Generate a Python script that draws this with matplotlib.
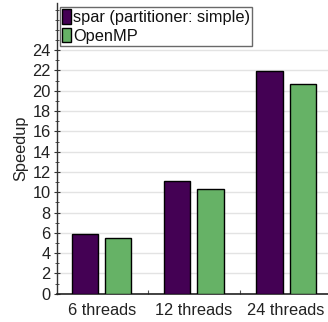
import matplotlib
matplotlib.use("Agg")
import matplotlib.pyplot as plt
import numpy as np
from matplotlib.ticker import MultipleLocator
from matplotlib.patches import Patch

categories = ["6 threads", "12 threads", "24 threads"]
series_names = ["spar (partitioner: simple)", "OpenMP"]
spar_values = [5.88, 11.07, 21.97]
openmp_values = [5.49, 10.35, 20.63]
colors = ["#440154", "#66b266"]

plt.rcParams['font.family'] = ['Liberation Sans', 'DejaVu Sans']
FS = 11.8

fig = plt.figure(figsize=(3.28, 3.22), dpi=100)
ax = fig.add_axes([57/328, (322-293.7)/322, 1 - 57/328 + 0.01, (293.7-3)/322])

x = np.arange(len(categories))
w = 0.283
off = 0.18
ax.bar(x - off, spar_values, w, color=colors[0], edgecolor="black", linewidth=1.0, zorder=3)
ax.bar(x + off, openmp_values, w, color=colors[1], edgecolor="black", linewidth=1.0, zorder=3)

ax.set_xlim(-0.484, 2.49)
ax.set_ylim(0, 28.65)
ax.set_yticks(np.arange(0, 25, 2))
ax.yaxis.set_minor_locator(MultipleLocator(1))
ax.tick_params(axis='y', which='major', direction='inout', length=5, width=0.8, labelsize=FS, pad=2, colors='#333333', labelcolor='#222222')
ax.tick_params(axis='y', which='minor', direction='inout', length=3, width=0.6, colors='#333333')
for yv in range(0, 25, 2):
    ax.axhline(yv, color="#e3e3e3", linewidth=1.0, zorder=1)

ax.set_xticks(x)
ax.set_xticklabels(categories)
ax.tick_params(axis='x', which='major', length=0, labelsize=FS, pad=7, labelcolor='#222222')
ax.set_xticks([0.5, 1.5], minor=True)
ax.tick_params(axis='x', which='minor', direction='in', length=3, width=0.8, colors='#555555')

for s in ['top', 'right']:
    ax.spines[s].set_visible(False)
ax.spines['left'].set_color('#333333')
ax.spines['bottom'].set_color('#222222')
ax.spines['left'].set_linewidth(1.0)
ax.spines['bottom'].set_linewidth(1.2)

ax.set_ylabel("Speedup", fontsize=FS, labelpad=3, color='#222222')

handles = [Patch(facecolor=colors[0], edgecolor="black", linewidth=1.0),
           Patch(facecolor=colors[1], edgecolor="black", linewidth=1.0)]
leg = ax.legend(handles, series_names, loc='upper left', bbox_to_anchor=(0.01, 0.985),
                fontsize=FS, frameon=True, fancybox=False, borderpad=0.12,
                handlelength=0.55, handleheight=1.0, handletextpad=0.15, labelspacing=0.15,
                borderaxespad=0.0)
leg.get_frame().set_edgecolor('#444444')
leg.get_frame().set_linewidth(1.0)
for t in leg.get_texts():
    t.set_color('#111111')

fig.savefig("out.png", dpi=100)
